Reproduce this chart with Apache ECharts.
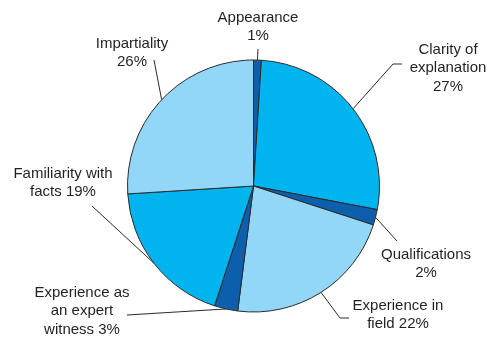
<!DOCTYPE html>
<html>
<head>
<meta charset="utf-8">
<style>
  html, body { margin: 0; padding: 0; background: #ffffff; }
  #chart { width: 500px; height: 348px; }
</style>
<script src="https://cdn.jsdelivr.net/npm/echarts@6/dist/echarts.min.js"></script>
</head>
<body>
<div id="chart"></div>
<script>
// Factors that matter most in an expert witness (percent of responses)
const categories = [
  'Appearance',
  'Clarity of\nexplanation',
  'Qualifications',
  'Experience in\nfield',
  'Experience as\nan expert\nwitness',
  'Familiarity with\nfacts',
  'Impartiality'
];
const values = [1, 27, 2, 22, 3, 19, 26];
// joiner between the wrapped name and its percentage
const percentJoin = ['\n', '\n', '\n', ' ', ' ', ' ', '\n'];

const DARK = '#0b5fad';
const CYAN = '#00b5ef';
const LIGHT = '#92d7f7';
const sliceColors = [DARK, CYAN, DARK, LIGHT, DARK, CYAN, LIGHT];

// label block centres and leader-line bends/ends, in pixels
const labelAnchor = [
  [258, 27], [448, 68], [426, 264], [398, 315], [82, 311], [63, 183], [132, 53]
];
const guideTail = [
  [[258, 49]],
  [[393, 64], [402, 64]],
  [[397, 241]],
  [[340, 318], [349, 318]],
  [[127, 315]],
  [[92, 206]],
  [[154, 60]]
];

const chart = echarts.init(document.getElementById('chart'), null, { renderer: 'canvas' });

chart.setOption({
  backgroundColor: '#ffffff',
  animation: false,
  series: [{
    type: 'pie',
    center: [253.5, 186],
    radius: 126,
    startAngle: 90,
    clockwise: true,
    avoidLabelOverlap: false,
    itemStyle: { borderColor: '#2b2b2b', borderWidth: 1 },
    label: {
      show: true,
      position: 'outside',
      fontFamily: 'Liberation Sans, Arial, Helvetica, sans-serif',
      fontSize: 15,
      lineHeight: 18.5,
      color: '#231f20',
      align: 'center',
      formatter: p => categories[p.dataIndex] + percentJoin[p.dataIndex] + p.value + '%'
    },
    labelLine: {
      show: true,
      length: 10,
      length2: 5,
      lineStyle: { color: '#2b2b2b', width: 1 }
    },
    labelLayout: p => {
      const i = p.dataIndex;
      const out = {
        x: labelAnchor[i][0],
        y: labelAnchor[i][1],
        align: 'center',
        verticalAlign: 'middle'
      };
      if (p.labelLinePoints && p.labelLinePoints.length) {
        out.labelLinePoints = [p.labelLinePoints[0]].concat(guideTail[i]);
      }
      return out;
    },
    data: categories.map((c, i) => ({
      name: c,
      value: values[i],
      itemStyle: { color: sliceColors[i] }
    }))
  }]
});
</script>
</body>
</html>
